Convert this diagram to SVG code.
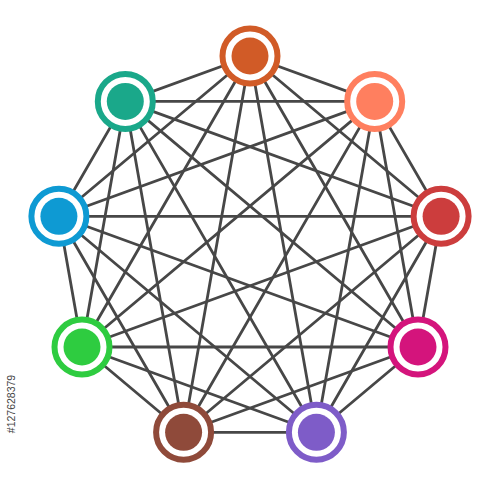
<svg xmlns="http://www.w3.org/2000/svg" width="500" height="500" viewBox="0 0 500 500">
<style>
.e{stroke:#474747;stroke-width:2.8;fill:none;stroke-linecap:round}
.ring{fill:#fff;stroke-width:6}
.lbl{font-family:"Liberation Sans",Arial,sans-serif;font-size:10.5px;fill:#444}
</style>
<rect width="500" height="500" fill="#fff"/>
<g id="connectors" class="e">
<path d="M250,56L374.7,101.4M250,56L441.1,216.3M250,56L418,347M250,56L316.4,432.3M250,56L183.6,432.3M250,56L82,347M250,56L58.9,216.3M250,56L125.3,101.4"/>
<path d="M374.7,101.4L441.1,216.3M374.7,101.4L418,347M374.7,101.4L316.4,432.3M374.7,101.4L183.6,432.3M374.7,101.4L82,347M374.7,101.4L58.9,216.3M374.7,101.4L125.3,101.4"/>
<path d="M441.1,216.3L418,347M441.1,216.3L316.4,432.3M441.1,216.3L183.6,432.3M441.1,216.3L82,347M441.1,216.3L58.9,216.3M441.1,216.3L125.3,101.4"/>
<path d="M418,347L316.4,432.3M418,347L183.6,432.3M418,347L82,347M418,347L58.9,216.3M418,347L125.3,101.4"/>
<path d="M316.4,432.3L183.6,432.3M316.4,432.3L82,347M316.4,432.3L58.9,216.3M316.4,432.3L125.3,101.4"/>
<path d="M183.6,432.3L82,347M183.6,432.3L58.9,216.3M183.6,432.3L125.3,101.4"/>
<path d="M82,347L58.9,216.3M82,347L125.3,101.4"/>
<path d="M58.9,216.3L125.3,101.4"/>
</g>
<g id="n1"><circle class="ring" cx="250" cy="56" r="27.5" stroke="#d15b27"/><circle cx="250" cy="56" r="18.5" fill="#d15b27"/></g>
<g id="n2"><circle class="ring" cx="374.7" cy="101.4" r="27.5" stroke="#ff7f5f"/><circle cx="374.7" cy="101.4" r="18.5" fill="#ff7f5f"/></g>
<g id="n3"><circle class="ring" cx="441.1" cy="216.3" r="27.5" stroke="#cc3d3d"/><circle cx="441.1" cy="216.3" r="18.5" fill="#cc3d3d"/></g>
<g id="n4"><circle class="ring" cx="418" cy="347" r="27.5" stroke="#d4147c"/><circle cx="418" cy="347" r="18.5" fill="#d4147c"/></g>
<g id="n5"><circle class="ring" cx="316.4" cy="432.3" r="27.5" stroke="#7e5cc8"/><circle cx="316.4" cy="432.3" r="18.5" fill="#7e5cc8"/></g>
<g id="n6"><circle class="ring" cx="183.6" cy="432.3" r="27.5" stroke="#8f4a3a"/><circle cx="183.6" cy="432.3" r="18.5" fill="#8f4a3a"/></g>
<g id="n7"><circle class="ring" cx="82" cy="347" r="27.5" stroke="#2ecc40"/><circle cx="82" cy="347" r="18.5" fill="#2ecc40"/></g>
<g id="n8"><circle class="ring" cx="58.9" cy="216.3" r="27.5" stroke="#0e9ad3"/><circle cx="58.9" cy="216.3" r="18.5" fill="#0e9ad3"/></g>
<g id="n9"><circle class="ring" cx="125.3" cy="101.4" r="27.5" stroke="#1aa88a"/><circle cx="125.3" cy="101.4" r="18.5" fill="#1aa88a"/></g>
<text class="lbl" transform="translate(15,404) rotate(-90)" text-anchor="middle">#127628379</text>
</svg>
